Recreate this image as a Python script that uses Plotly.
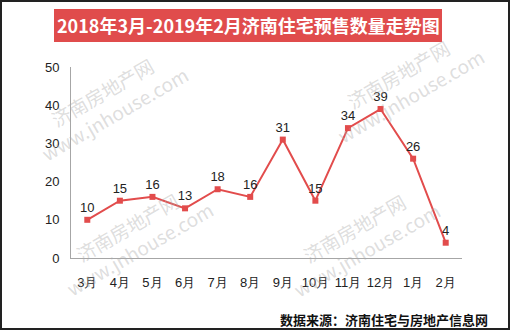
import plotly.graph_objects as go

months = ["3月", "4月", "5月", "6月", "7月", "8月", "9月", "10月", "11月", "12月", "1月", "2月"]
values = [10, 15, 16, 13, 18, 16, 31, 15, 34, 39, 26, 4]
title_text = "2018年3月-2019年2月济南住宅预售数量走势图"
source_text = "数据来源：济南住宅与房地产信息网"

W, H = 510, 330
L, R, T, B = 71, 48, 67, 72
pw, ph = W - L - R, H - T - B

def px(x):
    return (x - L) / pw

def py(y):
    return (H - B - y) / ph

red = "#E24C4C"
fig = go.Figure()
fig.add_trace(go.Scatter(
    x=months, y=values, mode="lines+markers+text",
    line=dict(color=red, width=2),
    marker=dict(symbol="square", size=6, color=red),
    text=[str(v) for v in values], textposition="top center",
    textfont=dict(family="Liberation Sans, Arial", size=13, color="#222"),
    cliponaxis=False, hoverinfo="skip",
))

fig.update_layout(
    width=W, height=H, margin=dict(l=L, r=R, t=T, b=B),
    paper_bgcolor="white", plot_bgcolor="white", showlegend=False,
    font=dict(family="Liberation Sans, Arial", size=13, color="#222"),
    xaxis=dict(type="category", range=[-0.5, 11.5], showgrid=False, showline=True,
               linecolor="#A6A6A6", linewidth=1, ticks="", tickfont=dict(size=13, color="#222"),
               ticklabelstandoff=12, fixedrange=True),
    yaxis=dict(range=[0, 50], dtick=10, showgrid=False, showline=True,
               linecolor="#A6A6A6", linewidth=1, ticks="", tickfont=dict(size=13, color="#222"),
               ticklabelstandoff=8, zeroline=False, fixedrange=True),
)

shapes = []
shapes.append(dict(type="rect", xref="paper", yref="paper",
                   x0=px(1), x1=px(W - 1), y0=py(H - 1), y1=py(1),
                   line=dict(color="#222", width=2), fillcolor="rgba(0,0,0,0)", layer="below"))
shapes.append(dict(type="rect", xref="paper", yref="paper",
                   x0=px(54), x1=px(442), y0=py(42), y1=py(9),
                   line=dict(width=0), fillcolor="#E04C4C", layer="below"))
fig.update_layout(shapes=shapes)

ann = []
ann.append(dict(xref="paper", yref="paper", x=px(248), y=py(25.5), text="<b>" + title_text + "</b>",
                showarrow=False, xanchor="center", yanchor="middle",
                font=dict(family="Noto Sans CJK SC", size=18, color="white")))
ann.append(dict(xref="paper", yref="paper", x=px(490), y=py(319), text="<b>" + source_text + "</b>",
                showarrow=False, xanchor="right", yanchor="middle",
                font=dict(family="Noto Sans CJK SC", size=13, color="#111")))
wm_col = "rgba(170,170,170,0.4)"
for (x, y) in [(108, 103), (404, 85), (133, 238), (360, 239)]:
    ann.append(dict(xref="paper", yref="paper", x=px(x), y=py(y),
                    text="济南房地产网<br>www.jnhouse.com", showarrow=False, textangle=-30,
                    align="center", xanchor="center", yanchor="middle",
                    font=dict(family="Noto Sans CJK SC", size=19, color=wm_col)))
fig.update_layout(annotations=ann)

fig.write_html("out.html")
